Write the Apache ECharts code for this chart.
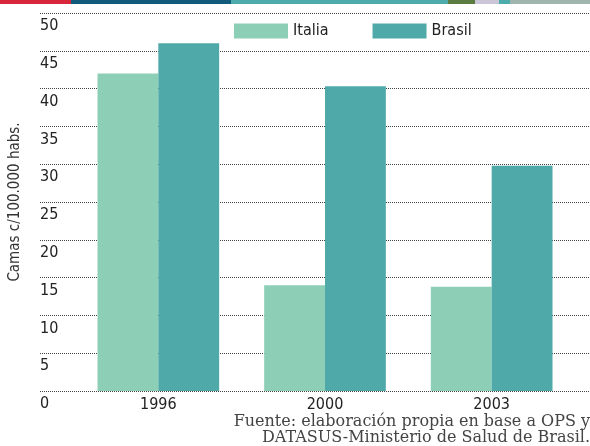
<!DOCTYPE html>
<html>
<head>
    <meta charset="utf-8">
    <title></title>
    <style type="text/css">
        html, body { height: 100%; }
        body { margin: 0; padding: 0; background: #fff; }
        #main { width: 590px; height: 446px; }
    </style>
    <script src="https://cdn.jsdelivr.net/npm/echarts@6/dist/echarts.min.js"></script>
</head>
<body>
    <div id="main"></div>
    <script type="text/javascript">
        var years = ['1996', '2000', '2003'];
        var italia = [42, 14, 13.8];
        var brasil = [46, 40.3, 29.8];
        var seriesNames = ['Italia', 'Brasil'];
        var yLabel = 'Camas c/100.000 habs.';
        var sourceLines = ['Fuente: elaboración propia en base a OPS y', 'DATASUS-Ministerio de Salud de Brasil.'];

        var narrow = '"DejaVu Sans Condensed", "Liberation Sans Narrow", Roboto, sans-serif';
        var colors = ['#8dcfb6', '#4fa9a9'];

        // colour strip on top
        var strip = [
            [0, 71, '#d8263a'], [71, 160, '#135b7b'], [231, 217, '#4eabab'],
            [448, 27, '#5c7b40'], [475, 24, '#cac6d7'], [499, 11, '#4eabab'], [510, 80, '#a0b4ae']
        ];
        var graphics = strip.map(function (s) {
            return { type: 'rect', shape: { x: s[0], y: 0, width: s[1], height: 4 }, style: { fill: s[2] }, silent: true };
        });
        graphics.push({
            type: 'text', x: 15, y: 202, rotation: Math.PI / 2,
            style: { text: yLabel, font: '15px ' + narrow, fill: '#333', align: 'center', verticalAlign: 'middle' }
        });
        sourceLines.forEach(function (line, i) {
            graphics.push({
                type: 'text', x: 590, y: 422 + i * 16,
                style: { text: line, font: '16px "DejaVu Serif", serif', fill: '#444', align: 'right', verticalAlign: 'middle' }
            });
        });

        var myChart = echarts.init(document.getElementById('main'));
        myChart.setOption({
            animation: false,
            color: colors,
            textStyle: { fontFamily: narrow },
            legend: {
                data: seriesNames,
                left: 234, top: 23, padding: 0,
                itemWidth: 54, itemHeight: 15, itemGap: 44,
                icon: 'rect',
                textStyle: { fontSize: 16, color: '#222', fontFamily: narrow }
            },
            grid: [
                { left: 40, right: 0, top: 13, bottom: 55, containLabel: false },
                { left: 75, width: 500, top: 13, bottom: 55, containLabel: false }
            ],
            xAxis: [
                { gridIndex: 0, type: 'value', show: false, min: 0, max: 1 },
                {
                    gridIndex: 1, type: 'category', data: years,
                    axisLine: { show: false }, axisTick: { show: false },
                    axisLabel: { fontSize: 16, color: '#222', margin: 6, fontFamily: narrow }
                }
            ],
            yAxis: [
                {
                    gridIndex: 0, type: 'value', min: 0, max: 50, interval: 5,
                    axisLine: { show: false }, axisTick: { show: false },
                    axisLabel: {
                        inside: true, margin: 0, fontSize: 16, color: '#222', fontFamily: narrow,
                        verticalAlign: 'top', padding: [5, 0, 0, 0], showMaxLabel: true
                    },
                    splitLine: { show: true, showMinLine: true, showMaxLine: true, lineStyle: { type: [1, 1], color: '#444', width: 1 } }
                },
                {
                    gridIndex: 1, type: 'value', min: 0, max: 50, interval: 5, show: false,
                    splitLine: { show: false }
                }
            ],
            series: [
                { name: seriesNames[0], type: 'bar', xAxisIndex: 1, yAxisIndex: 1, data: italia, barGap: '0%', barCategoryGap: '27%' },
                { name: seriesNames[1], type: 'bar', xAxisIndex: 1, yAxisIndex: 1, data: brasil, barGap: '0%', barCategoryGap: '27%' }
            ],
            graphic: graphics
        });
    </script>
</body>
</html>
